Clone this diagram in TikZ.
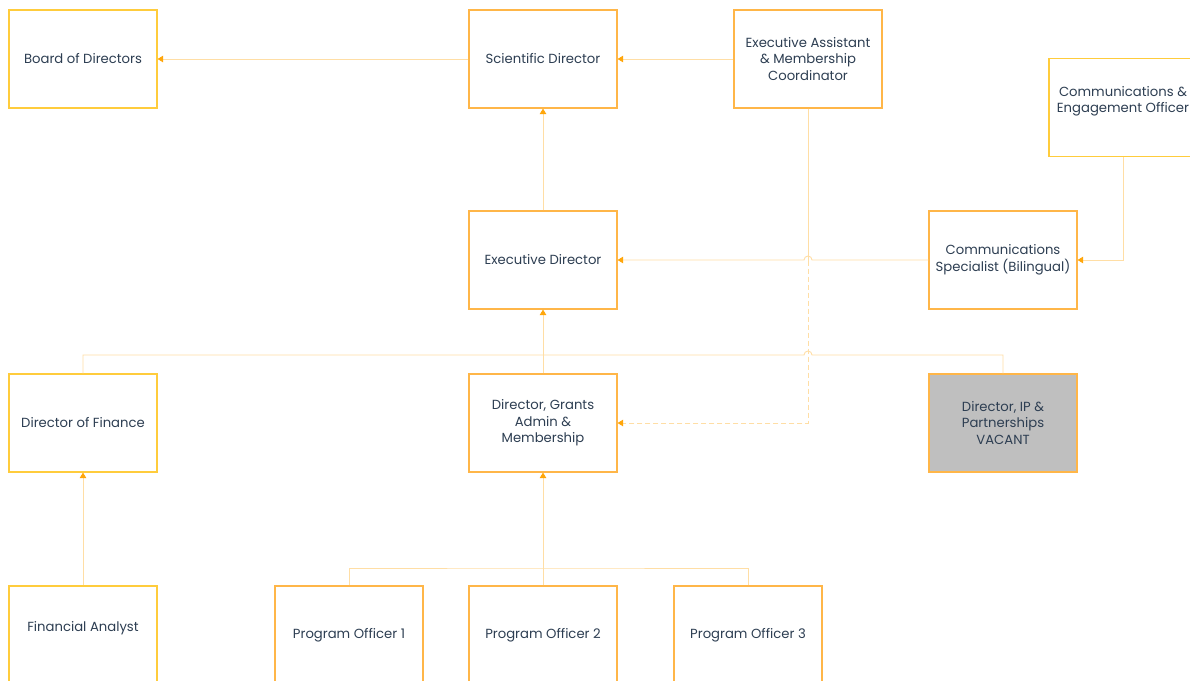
\documentclass[tikz,border=0pt]{standalone}
\usepackage{fontspec}
\setmainfont{Poppins}
\usetikzlibrary{arrows.meta}
\definecolor{txt}{RGB}{45,62,82}
\definecolor{yelb}{RGB}{255,204,60}
\definecolor{orgb}{RGB}{255,182,72}
\definecolor{lin}{RGB}{255,222,165}
\definecolor{arr}{RGB}{255,166,10}
\definecolor{vac}{RGB}{191,191,191}
\begin{document}
\begin{tikzpicture}[x=1pt,y=-1pt,
 box/.style={draw=orgb, line width=1.2pt, minimum width=148pt, minimum height=98pt, inner sep=0pt, align=center, font=\fontsize{13.2}{16.5}\selectfont, text=txt, fill=white},
 ybox/.style={box, draw=yelb},
 conn/.style={draw=lin, line width=0.9pt, -{Triangle[width=6.5pt,length=5.5pt,color=arr]}},
 plain/.style={draw=lin, line width=0.9pt},
 dashline/.style={conn, dash pattern=on 5pt off 3pt}
]
\useasboundingbox (0,0) rectangle (1190,680);
\clip (0,0) rectangle (1190,680);
\fill[white] (0,0) rectangle (1190,680);
\coordinate (hopA) at (808,260);
\coordinate (hopB) at (808,355);
\coordinate (poBus) at (543,568);
% nodes
\node[ybox] (bod) at (83,59) {Board of Directors};
\node[box] (sci) at (543,59) {Scientific Director};
\node[box] (ea) at (808,59) {Executive Assistant\\\& Membership\\Coordinator};
\node[ybox] (ce) at (1123,107.5) {Communications \&\\Engagement Officer\\\mbox{}};
\node[box] (ed) at (543,260) {Executive Director};
\node[box] (cs) at (1003,260) {Communications\\Specialist (Bilingual)};
\node[ybox] (fin) at (83,423) {Director of Finance};
\node[box] (gr) at (543,423) {Director, Grants\\Admin \&\\Membership};
\node[box, fill=vac] (ip) at (1003,423) {Director, IP \&\\Partnerships\\VACANT};
\node[ybox] (fa) at (83,635) {Financial Analyst\\\mbox{}};
\node[box] (po1) at (349,635) {Program Officer 1};
\node[box] (po2) at (543,635) {Program Officer 2};
\node[box] (po3) at (748,635) {Program Officer 3};
% connectors
\draw[conn] (sci) -- (bod);
\draw[conn] (ea) -- (sci);
\draw[conn] (ed) -- (sci);
\draw[plain] (ea.south) -- ([yshift=-4pt]hopA);
\draw[dashline] (ea.south) |- (gr.east);
\draw[conn] (cs.west) -- ([xshift=4pt]hopA) arc (0:-180:4) -- (ed.east);
\draw[conn] (ce.south) |- (cs.east);
\draw[plain] (fin.north) |- ([xshift=-4pt]hopB) arc (180:360:4) -| (ip.north);
\draw[conn] (gr) -- (ed);
\draw[conn] (fa) -- (fin);
\draw[plain] (po1.north) |- (poBus) -| (po3.north);
\draw[conn] (po2) -- (gr);
\end{tikzpicture}
\end{document}
